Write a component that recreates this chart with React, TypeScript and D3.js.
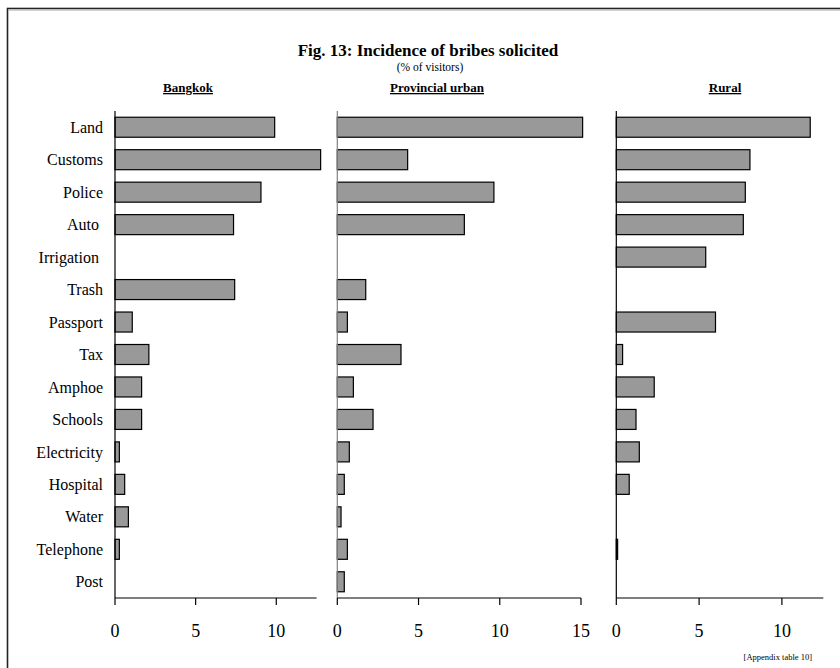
import React from "react";
import * as d3 from "d3";

const categories = ["Land", "Customs", "Police", "Auto", "Irrigation", "Trash", "Passport", "Tax", "Amphoe", "Schools", "Electricity", "Hospital", "Water", "Telephone", "Post"];
const bangkok = [9.9, 12.75, 9.05, 7.35, 0, 7.42, 1.07, 2.1, 1.65, 1.65, 0.27, 0.6, 0.83, 0.27, 0];
const provincial = [15.1, 4.33, 9.64, 7.82, 0, 1.75, 0.62, 3.92, 0.99, 2.2, 0.74, 0.43, 0.23, 0.62, 0.43];
const rural = [11.71, 8.07, 7.79, 7.67, 5.4, 0, 5.99, 0.38, 2.29, 1.19, 1.39, 0.78, 0, 0.08, 0];
const bangkokTicks = [0, 5, 10];
const provincialTicks = [0, 5, 10, 15];
const ruralTicks = [0, 5, 10];

const FONT = "'Liberation Serif', 'Times New Roman', serif";

export default function App() {
  const y = d3.scaleBand<string>().domain(categories).range([111, 598]).paddingInner(0.384).paddingOuter(0.192);
  const panels = [
    { name: "Bangkok", values: bangkok, ticks: bangkokTicks, x: d3.scaleLinear().domain([0, 12.5]).range([115, 316.6]), headerX: 188, axisColor: "#000" },
    { name: "Provincial urban", values: provincial, ticks: provincialTicks, x: d3.scaleLinear().domain([0, 15]).range([337.3, 581]), headerX: 437, axisColor: "#808080" },
    { name: "Rural", values: rural, ticks: ruralTicks, x: d3.scaleLinear().domain([0, 12.5]).range([616.3, 823.3]), headerX: 725, axisColor: "#000" },
  ];
  const axisY = 598;
  return (
    <svg width={840} height={668} style={{ position: "absolute", left: 0, top: 0, background: "#fff" }} fontFamily={FONT}>
      <rect x={7.5} y={8.5} width={840} height={700} fill="none" stroke="#222" strokeWidth={1.6} />
      <line x1={8} x2={840} y1={10.2} y2={10.2} stroke="#bbb" strokeWidth={1} />
      <text x={428} y={56} textAnchor="middle" fontSize={17} fontWeight="bold">Fig. 13: Incidence of bribes solicited</text>
      <text x={430} y={71} textAnchor="middle" fontSize={11.5}>(% of visitors)</text>
      {categories.map((c) => (
        <text key={c} x={103} y={(y(c) as number) + y.bandwidth() / 2} dy="0.35em" textAnchor="end" fontSize={16} style={{ whiteSpace: "pre" }}>
          {c === "Auto" || c === "Irrigation" ? c + " " : c}
        </text>
      ))}
      {panels.map((p) => {
        const [x0, x1] = p.x.range();
        return (
          <g key={p.name}>
            <text x={p.headerX} y={92} textAnchor="middle" fontSize={13} fontWeight="bold" textDecoration="underline">{p.name}</text>
            {p.values.map((v, i) =>
              v > 0 ? (
                <rect key={i} x={p.x(0)} y={y(categories[i]) as number} width={p.x(v) - p.x(0)} height={y.bandwidth()} fill="#999999" stroke="#000" strokeWidth={1.2} />
              ) : null
            )}
            <line x1={x0} x2={x0} y1={111} y2={axisY} stroke={p.axisColor} strokeWidth={1.2} />
            <line x1={x0} x2={x1} y1={axisY} y2={axisY} stroke="#000" strokeWidth={1.2} />
            {p.ticks.map((t) => (
              <g key={t}>
                <line x1={p.x(t)} x2={p.x(t)} y1={axisY} y2={axisY + 7} stroke="#000" strokeWidth={1.2} />
                <text x={p.x(t)} y={637} textAnchor="middle" fontSize={18}>{t}</text>
              </g>
            ))}
          </g>
        );
      })}
      <text x={812} y={660} textAnchor="end" fontSize={8.5}>[Appendix table 10]</text>
    </svg>
  );
}
